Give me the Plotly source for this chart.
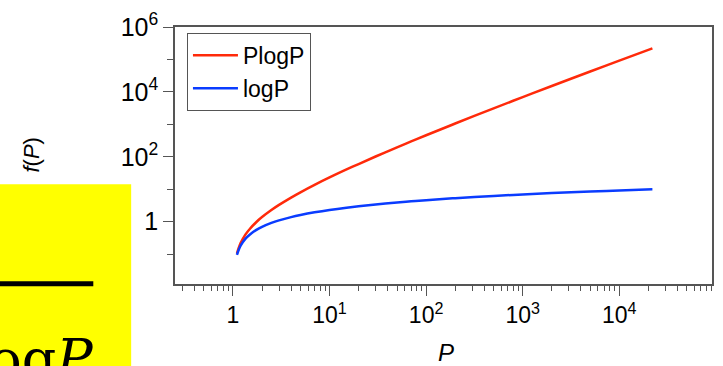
import plotly.graph_objects as go

# Data (P from 1.1 to ~e^10)
P_values = [1.1, 1.2, 1.35, 1.5, 1.75, 2, 2.5, 3, 4, 5, 7, 10, 15, 20, 30, 50, 70,
            100, 200, 500, 1000, 2000, 5000, 10000, 22026]
PlogP_values = [0.1048, 0.2188, 0.4051, 0.6082, 0.9793, 1.3863, 2.2907, 3.2958, 5.5452,
                8.0472, 13.621, 23.026, 40.621, 59.915, 102.04, 195.60, 297.40, 460.52,
                1059.7, 3107.3, 6907.8, 15202, 42586, 92103, 220260]
logP_values = [0.0953, 0.1823, 0.3001, 0.4055, 0.5596, 0.6931, 0.9163, 1.0986, 1.3863,
               1.6094, 1.9459, 2.3026, 2.7081, 2.9957, 3.4012, 3.9120, 4.2485, 4.6052,
               5.2983, 6.2146, 6.9078, 7.6009, 8.5172, 9.2103, 10.0]

series_names = ["PlogP", "logP"]
series_colors = ["#ff2a0a", "#0a3cff"]

x_tickvals = [1, 10, 100, 1000, 10000]
x_ticktext = ["1", "10<sup>1</sup>", "10<sup>2</sup>", "10<sup>3</sup>", "10<sup>4</sup>"]
y_tickvals = [1, 100, 10000, 1000000]
y_ticktext = ["1", "10<sup>2</sup>", "10<sup>4</sup>", "10<sup>6</sup>"]

FONT = "Liberation Sans, Arial, Helvetica, sans-serif"
AX = "#555555"

fig = go.Figure()
for name, ys, col in zip(series_names, [PlogP_values, logP_values], series_colors):
    fig.add_trace(go.Scatter(x=P_values, y=ys, mode="lines", name=name,
                             line=dict(color=col, width=2.5, shape="spline")))

axis_common = dict(type="log", showgrid=False, zeroline=False, showline=True,
                   linecolor=AX, linewidth=1.5, mirror=True, ticks="outside",
                   tickcolor=AX, tickwidth=1.2, ticklen=10, tickmode="array")

fig.update_xaxes(**axis_common, range=[-0.6, 4.96], tickvals=x_tickvals, ticktext=x_ticktext,
                 tickfont=dict(family=FONT, size=23, color="black"),
                 minor=dict(ticks="outside", ticklen=5, tickcolor=AX, tickwidth=1.2, dtick="D1"))
fig.update_yaxes(**axis_common, range=[-1.92, 6.0], tickvals=y_tickvals, ticktext=y_ticktext,
                 tickfont=dict(family=FONT, size=25, color="black"),
                 minor=dict(ticks="outside", ticklen=6, tickcolor=AX, tickwidth=1.2,
                            tickvals=[0.1, 10, 1000, 100000]))

W, H = 723, 366
L, R, T, B = 175, 9, 21, 82
pw, ph = W - L - R, H - T - B

def px(xp):
    return (xp - L) / pw

def py(yp):
    return (H - B - yp) / ph

fig.update_layout(
    width=W, height=H,
    margin=dict(l=L, r=R, t=T, b=B, pad=0),
    paper_bgcolor="white", plot_bgcolor="white",
    font=dict(family=FONT, size=23, color="black"),
    showlegend=True,
    legend=dict(x=px(187), y=py(27), xanchor="left", yanchor="top",
                bordercolor=AX, borderwidth=1, bgcolor="white",
                font=dict(family=FONT, size=23, color="black"),
                tracegroupgap=0, itemwidth=45, entrywidth=88, entrywidthmode="pixels"),
    shapes=[
        dict(type="rect", xref="paper", yref="paper", x0=px(-5), x1=px(131),
             y0=py(371), y1=py(182), fillcolor="#ffff00", line=dict(width=0), layer="above"),
        dict(type="line", xref="paper", yref="paper", x0=px(-5), x1=px(93),
             y0=py(283.7), y1=py(283.7), line=dict(color="black", width=5), layer="above"),
    ],
    annotations=[
        dict(xref="paper", yref="paper", x=px(96), y=py(327), xanchor="right", yanchor="top",
             text="log<i>P</i>", showarrow=False,
             font=dict(family="DejaVu Serif, serif", size=54, color="black")),
        dict(xref="paper", yref="paper", x=px(30), y=py(152), xanchor="center", yanchor="middle",
             text="<i>f</i>(<i>P</i>)", textangle=-90, showarrow=False,
             font=dict(family=FONT, size=22, color="black")),
        dict(xref="paper", yref="paper", x=px(447), y=py(354), xanchor="center", yanchor="middle",
             text="<i>P</i>", showarrow=False,
             font=dict(family=FONT, size=24, color="black")),
    ],
)

fig.write_html("out.html")
